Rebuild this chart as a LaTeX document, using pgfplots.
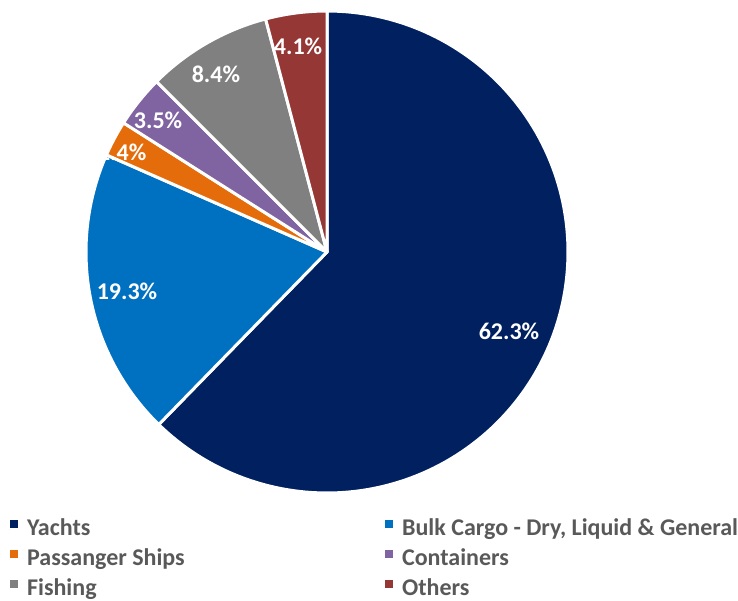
\documentclass[border=0pt]{standalone}
\usepackage{fontspec}
\setmainfont{Carlito}
\usepackage{pgfplots}
\pgfplotsset{compat=1.18}
\definecolor{cYachts}{HTML}{002060}
\definecolor{cBulk}{HTML}{0070C0}
\definecolor{cPass}{HTML}{E46C0A}
\definecolor{cCont}{HTML}{8064A2}
\definecolor{cFish}{HTML}{808080}
\definecolor{cOther}{HTML}{953735}
\definecolor{legendgray}{HTML}{595959}
% shares (%)
\def\vA{62.3}\def\vB{19.3}\def\vC{2.4}\def\vD{3.5}\def\vE{8.4}\def\vF{4.1}
\pgfmathsetmacro\aA{90-3.6*\vA}
\pgfmathsetmacro\aB{\aA-3.6*\vB}
\pgfmathsetmacro\aC{\aB-3.6*\vC}
\pgfmathsetmacro\aD{\aC-3.6*\vD}
\pgfmathsetmacro\aE{\aD-3.6*\vE}
\pgfmathsetmacro\aF{\aE-3.6*\vF}
\begin{document}
\begin{tikzpicture}[x=1pt,y=1pt]
\useasboundingbox (0,0) rectangle (738,-601);
\begin{axis}[
  at={(327pt,-252pt)}, anchor=origin,
  scale only axis, width=482pt, height=482pt,
  xmin=-1, xmax=1, ymin=-1, ymax=1,
  hide axis, clip=false,
  legend columns=2,
  legend cell align=left,
  legend image code/.code={\fill[#1,draw=none] (0pt,2pt) rectangle (8pt,10pt); \path (0pt,0pt) -- (16pt,0pt);},
  legend style={at={(-0.162,-0.054)}, anchor=north west, draw=none, fill=none,
    inner sep=0pt, column sep=0pt, row sep=9pt,
    font=\fontsize{24}{28}\selectfont\bfseries,
    nodes={inner sep=0pt, text height=16pt, text depth=5pt, text=legendgray}},
  every axis plot/.append style={draw=white, line width=3pt, line join=round},
]
\addplot[fill=cYachts, domain=\aA:90, samples=150] ({cos(x)},{sin(x)}) -- (0,0) -- cycle;
\addlegendentry{\makebox[356pt][l]{Yachts}}
\addplot[fill=cBulk, domain=\aB:\aA, samples=60] ({cos(x)},{sin(x)}) -- (0,0) -- cycle;
\addlegendentry{Bulk Cargo - Dry, Liquid \& General}
\addplot[fill=cPass, domain=\aC:\aB, samples=20] ({cos(x)},{sin(x)}) -- (0,0) -- cycle;
\addlegendentry{\makebox[356pt][l]{Passanger Ships}}
\addplot[fill=cCont, domain=\aD:\aC, samples=20] ({cos(x)},{sin(x)}) -- (0,0) -- cycle;
\addlegendentry{Containers}
\addplot[fill=cFish, domain=\aE:\aD, samples=40] ({cos(x)},{sin(x)}) -- (0,0) -- cycle;
\addlegendentry{\makebox[356pt][l]{Fishing}}
\addplot[fill=cOther, domain=\aF:\aE, samples=20] ({cos(x)},{sin(x)}) -- (0,0) -- cycle;
\addlegendentry{Others}
\begin{scope}[every node/.style={text=white, font=\fontsize{24}{28}\selectfont\bfseries}]
\node at (axis cs:0.755,-0.328) {62.3\%};
\node at (axis cs:-0.830,-0.162) {19.3\%};
\node at (axis cs:-0.850,0.415) {2.4\%};
\node at (axis cs:-0.701,0.548) {3.5\%};
\node at (axis cs:-0.461,0.739) {8.4\%};
\node at (axis cs:-0.120,0.855) {4.1\%};
\end{scope}
\end{axis}
\end{tikzpicture}
\end{document}
